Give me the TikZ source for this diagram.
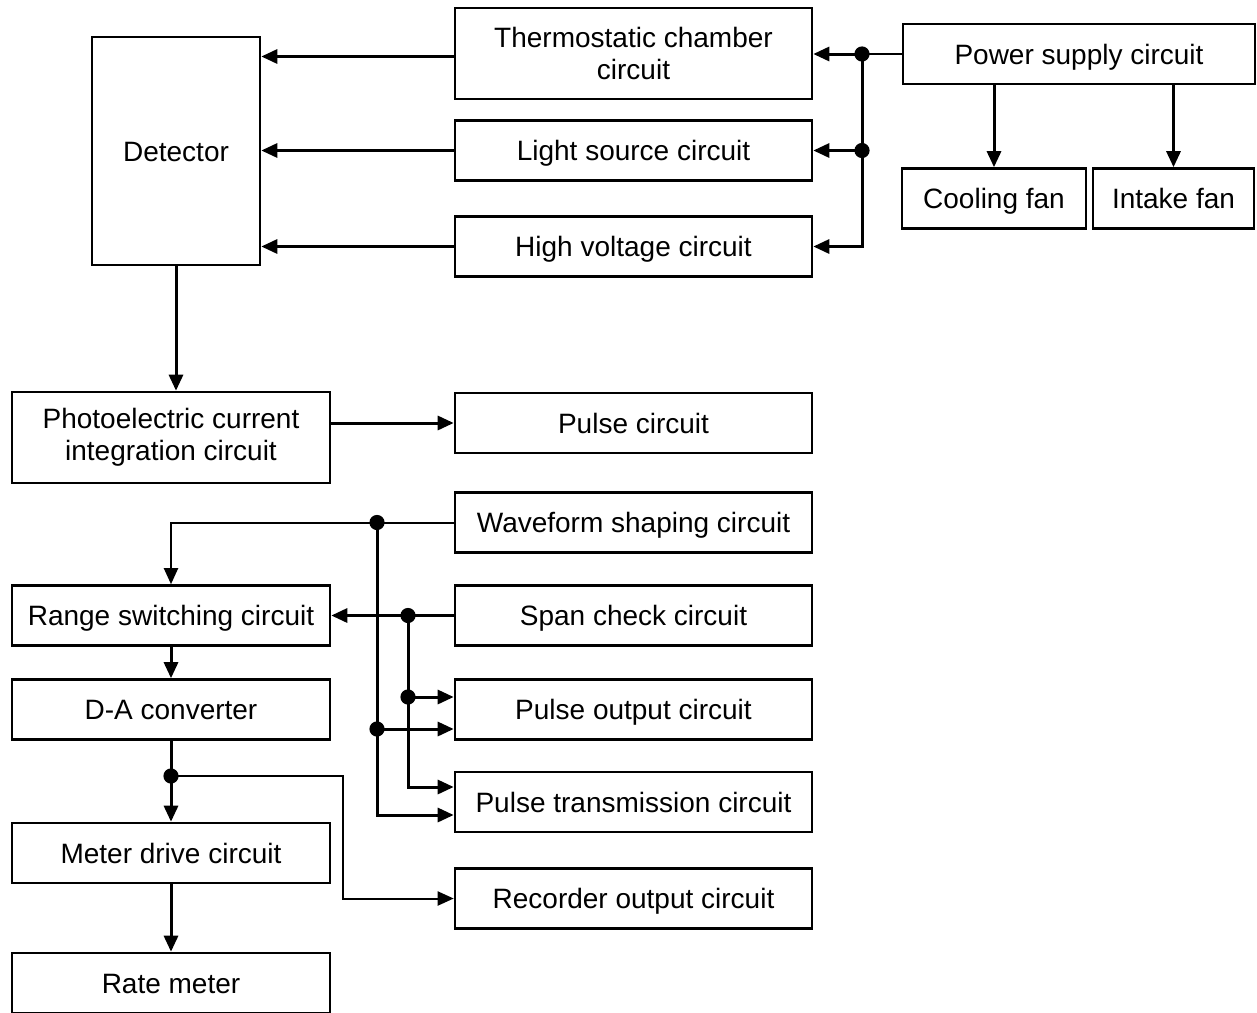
\documentclass[tikz,border=0pt]{standalone}
\usepackage{fontspec}
\setmainfont{Liberation Sans}
\usetikzlibrary{arrows.meta}
\begin{document}
\begin{tikzpicture}[x=0.5pt,y=-0.5pt,
  every node/.style={font=\fontsize{14}{16}\selectfont},
  blk/.style={draw,line width=1.3pt,align=center,inner sep=2pt},
  one/.style={blk,text height=10pt,text depth=0pt},
  lcol/.style={one,minimum width=159pt,minimum height=30pt},
  rcol/.style={one,minimum width=178.5pt,minimum height=30pt},
  lead/.style={line width=1.5pt},
  thinlead/.style={line width=1pt},
  wire/.style={lead,-{Triangle[length=8pt,width=7pt]}},
  thinwire/.style={thinlead,-{Triangle[length=8pt,width=7pt]}},
  dot/.style={fill=black}]
  \useasboundingbox (0,0) rectangle (1257,1012);
  % top part
  \node[one,minimum width=84pt,minimum height=114pt] (det) at (176,151) {Detector};
  \node[blk,minimum width=178.5pt,minimum height=45.5pt] (thermo) at (633.5,53.5) {Thermostatic chamber\\circuit};
  \node[rcol] (light) at (633.5,150.5) {Light source circuit};
  \node[rcol] (hv) at (633.5,246.5) {High voltage circuit};
  \node[one,minimum width=176pt,minimum height=30pt] (power) at (1079,54) {Power supply circuit};
  \node[one,minimum width=92pt,minimum height=30pt] (cool) at (994,198.5) {Cooling fan};
  \node[one,minimum width=80.5pt,minimum height=30pt] (intake) at (1173.5,198.5) {Intake fan};
  % lower part
  \node[blk,minimum width=159pt,minimum height=45.5pt] (photo) at (171,437.5) {Photoelectric current\\integration circuit};
  \node[rcol] (pulse) at (633.5,423) {Pulse circuit};
  \node[rcol] (wave) at (633.5,522.5) {Waveform shaping circuit};
  \node[lcol] (range) at (171,615.5) {Range switching circuit};
  \node[rcol] (span) at (633.5,615.5) {Span check circuit};
  \node[lcol] (da) at (171,709.5) {D-A converter};
  \node[rcol] (pout) at (633.5,709.5) {Pulse output circuit};
  \node[rcol] (ptrans) at (633.5,802) {Pulse transmission circuit};
  \node[lcol] (meter) at (171,853) {Meter drive circuit};
  \node[rcol] (rec) at (633.5,898.5) {Recorder output circuit};
  \node[lcol] (rate) at (171,983) {Rate meter};

  \coordinate (jt) at (862,54); \coordinate (jl) at (862,150.5);
  \coordinate (jw) at (377,522.5); \coordinate (jw2) at (377,729);
  \coordinate (js) at (408,615.5); \coordinate (js2) at (408,697);
  \coordinate (jd) at (171,776); \coordinate (bend) at (343,776);

  \draw[wire] ([yshift=-1.5pt]thermo.west) -- ([yshift=-1.5pt]thermo.west -| det.east);
  \draw[wire] (light.west) -- (light.west -| det.east);
  \draw[wire] (hv.west) -- (hv.west -| det.east);
  \draw[thinlead] (power.west) -- (jt);
  \draw[wire] (jt) -- (jt -| thermo.east);
  \draw[wire] (jl) -- (light.east);
  \draw[wire] (jt) |- (hv.east);
  \draw[wire] (power.south -| cool.north) -- (cool.north);
  \draw[wire] (power.south -| intake.north) -- (intake.north);

  \draw[wire] (det.south) -- (det.south |- photo.north);
  \draw[wire] (photo.east |- pulse.west) -- (pulse.west);
  \draw[thinwire] (wave.west) -| (range.north);
  \draw[wire] (jw) |- ([yshift=-6.5pt]ptrans.west);
  \draw[wire] (jw2) -- (jw2 -| pout.west);
  \draw[wire] (span.west) -- (range.east);
  \draw[wire] (js) |- ([yshift=7.5pt]ptrans.west);
  \draw[wire] (js2) -- (js2 -| pout.west);
  \draw[wire] (range.south) -- (da.north);
  \draw[wire] (da.south) -- (meter.north);
  \draw[thinwire] (jd) -- (bend) |- (rec.west);
  \draw[wire] (meter.south) -- (rate.north);

  \foreach \j in {jt,jl,jw,jw2,js,js2,jd}
    \fill[dot] (\j) circle (3.8pt);
\end{tikzpicture}
\end{document}
